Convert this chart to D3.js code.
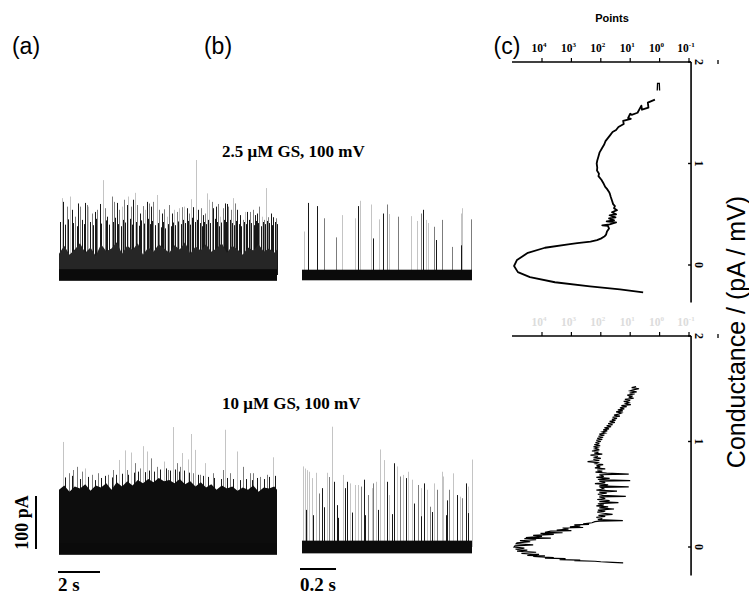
<!DOCTYPE html>
<html><head><meta charset="utf-8">
<script src="https://cdn.jsdelivr.net/npm/d3@7"></script>
<style>body{margin:0;background:#fff}svg{display:block}</style>
</head><body>
<svg id="c" width="749" height="594"></svg>
<script>
// ---------------- DATA ----------------
const panelLabels = ["(a)", "(b)", "(c)"];
const traceTitles = ["2.5 μM GS, 100 mV", "10 μM GS, 100 mV"];
const pointTicks = [4, 3, 2, 1, 0, -1];          // log10(points)
const condTicks = [0, 1, 2];                      // pA / mV
const scaleBars = { amp: 100, timeA: 2, timeB: 0.2 };
const scaleBarLabels = ["100 pA", "2 s", "0.2 s"];
const traceDuration = { a: 10.38, b: 0.944 };     // s
const baselineNoise = [11, 10, 11, 12];           // pA half width: a-top, b-top, a-bottom, b-bottom

// spikes: [time (s), amplitude (pA), dwell (ms)]
const spikesA1 = [
[0.13,145,0.6],[0.21,138,4],[0.37,129,1.5],[0.52,148,0.6],[0.60,123,4],[0.76,110,1.5],[0.92,135,4],[1.00,129,1.5],[1.24,136,4],[1.32,132,1.5],
[1.40,129,0.6],[1.56,116,1.5],[1.71,119,4],[1.83,123,1.5],[1.95,134,4],[2.08,179,0.6],[2.19,126,1.5],[2.30,110,4],[2.51,148,1.5],[2.62,138,1.5],
[2.75,136,4],[2.87,123,1.5],[2.98,129,0.6],[3.10,142,1.5],[3.22,132,4],[3.30,148,0.6],[3.43,129,1.5],[3.54,142,4],[3.63,155,0.6],[3.73,132,1.5],
[3.86,116,4],[3.98,130,1.5],[4.10,123,0.6],[4.17,138,4],[4.27,135,1.5],[4.37,129,4],[4.49,138,1.5],[4.65,151,0.6],[4.78,123,1.5],[4.89,116,4],
[5.00,124,1.5],[5.13,110,0.6],[5.25,132,1.5],[5.37,116,4],[5.48,123,0.6],[5.60,119,1.5],[5.73,126,0.6],[5.84,128,1.5],[5.97,129,0.6],[6.08,126,4],
[6.19,116,1.5],[6.30,143,0.6],[6.40,128,4],[6.52,217,0.6],[6.63,123,4],[6.75,126,1.5],[6.84,113,4],[6.95,116,1.5],[7.06,154,0.6],[7.14,142,0.6],
[7.27,138,1.5],[7.35,126,4],[7.48,129,4],[7.57,134,1.5],[7.67,110,0.6],[7.79,126,1.5],[7.90,135,4],[7.98,134,4],[8.06,129,1.5],[8.17,123,1.5],
[8.30,145,0.6],[8.40,135,1.5],[8.49,123,4],[8.62,113,4],[8.75,104,1.5],[8.86,119,0.6],[8.97,119,4],[9.10,119,1.5],[9.22,123,1.5],[9.33,113,4],
[9.44,116,4],[9.54,129,1.5],[9.65,110,0.6],[9.76,104,1.5],[9.86,164,0.6],[9.97,109,1.5],[10.08,116,4],[10.21,109,4],[10.33,107,1.5],
[0.05,100,4],[0.30,95,4],[0.45,105,4],[0.68,98,4],[0.85,92,4],[1.10,104,4],[1.18,96,4],[1.48,100,4],[1.64,94,4],[1.77,106,4],
[2.02,97,4],[2.25,103,4],[2.40,95,4],[2.57,100,4],[2.69,108,4],[2.82,96,4],[2.93,92,4],[3.05,104,4],[3.16,99,4],[3.36,106,4],
[3.48,95,4],[3.68,100,4],[3.80,93,4],[3.92,103,4],[4.04,97,4],[4.22,106,4],[4.32,96,4],[4.43,102,4],[4.55,94,4],[4.71,98,4],
[4.84,90,4],[4.95,100,4],[5.07,88,4],[5.19,96,4],[5.31,92,4],[5.43,99,4],[5.54,94,4],[5.66,101,4],[5.79,96,4],[5.90,104,4],
[6.02,98,4],[6.13,102,4],[6.25,95,4],[6.35,108,4],[6.46,100,4],[6.58,104,4],[6.70,98,4],[6.80,92,4],[6.90,100,4],[7.01,96,4],
[7.10,104,4],[7.21,98,4],[7.31,94,4],[7.42,106,4],[7.53,100,4],[7.62,92,4],[7.73,99,4],[7.85,104,4],[7.94,100,4],[8.02,96,4],
[8.12,104,4],[8.23,98,4],[8.35,94,4],[8.45,102,4],[8.56,96,4],[8.68,92,4],[8.80,100,4],[8.91,96,4],[9.04,104,4],[9.16,98,4],
[9.27,94,4],[9.38,102,4],[9.49,98,4],[9.60,92,4],[9.71,100,4],[9.81,96,4],[9.92,102,4],[10.02,98,4],[10.14,94,4],[10.27,100,4],[10.36,96,4]
];
const spikesB1 = [
[0.011,82,0.6],[0.035,136,4],[0.085,130,4],[0.081,85,4],[0.122,107,1.5],[0.189,71,1.5],[0.220,113,0.6],[0.294,107,0.6],[0.309,130,4],[0.322,140,0.6],
[0.383,133,0.6],[0.393,69,4],[0.430,105,0.6],[0.452,116,4],[0.470,133,1.5],[0.485,115,0.6],[0.535,110,1.5],[0.604,111,0.6],[0.641,102,0.6],[0.659,116,1.5],
[0.674,123,4],[0.689,104,0.6],[0.700,98,0.6],[0.735,91,1.5],[0.743,66,4],[0.776,104,1.5],[0.831,53,1.5],[0.881,116,0.6],[0.887,126,0.6],[0.884,56,4],[0.939,105,1.5]
];
const spikesA2 = [
[0.17,202,0.6],[0.49,143,1.5],[0.87,155,1.5],[1.24,152,0.6],[1.87,143,1.5],[2.35,140,1.5],[2.84,168,0.6],[3.14,186,0.6],[3.43,182,0.6],[3.62,162,1.5],
[4.02,194,0.6],[4.17,184,0.6],[4.37,171,1.5],[5.00,165,0.6],[5.41,230,0.6],[5.60,162,1.5],[5.86,181,0.6],[6.13,169,0.6],[6.29,217,0.6],[6.49,187,0.6],
[6.71,140,1.5],[6.95,162,0.6],[7.83,149,1.5],[7.89,225,0.6],[8.46,184,0.6],[8.75,155,1.5],[9.25,143,1.5],[10.17,173,0.6],
[0.68,149,1.5],[1.08,146,1.5],[1.56,140,1.5],[2.59,149,1.5],[3.22,149,1.5],[3.86,152,1.5],[4.65,155,1.5],[5.21,149,1.5],[5.76,155,1.5],[6.40,143,1.5],
[7.35,143,1.5],[8.14,143,1.5],[9.10,143,1.5],[9.57,136,1.5],[9.89,140,1.5],
[0.30,135,4],[0.62,138,4],[1.00,132,4],[1.40,136,4],[1.70,130,4],[2.00,134,4],[2.20,138,4],[2.50,135,4],[2.70,140,4],[3.00,142,4],
[3.30,140,4],[3.55,144,4],[3.75,146,4],[4.10,145,4],[4.30,148,4],[4.50,146,4],[4.80,150,4],[5.10,152,4],[5.30,148,4],[5.50,150,4],
[5.70,146,4],[5.95,148,4],[6.20,144,4],[6.60,140,4],[6.85,138,4],[7.10,136,4],[7.40,134,4],[7.70,132,4],[8.00,134,4],[8.30,132,4],
[8.60,130,4],[8.90,132,4],[9.20,130,4],[9.45,134,4],[9.75,132,4],[10.00,136,4],[10.30,138,4]
];
const spikesB2 = [
[0.004,152,0.6],[0.017,148,0.6],[0.030,145,0.6],[0.041,142,0.6],[0.054,130,0.6],[0.078,140,0.6],[0.096,101,1.5],[0.109,111,4],[0.137,140,0.6],[0.152,132,1.5],
[0.165,227,0.6],[0.178,123,4],[0.193,79,4],[0.226,136,0.6],[0.239,111,4],[0.252,123,4],[0.267,120,0.6],[0.294,117,0.6],[0.313,117,0.6],[0.328,114,1.5],
[0.344,127,4],[0.369,98,1.5],[0.387,111,0.6],[0.396,120,1.5],[0.411,123,0.6],[0.433,184,0.6],[0.457,164,0.6],[0.470,123,4],[0.485,98,0.6],[0.513,158,4],
[0.526,152,0.6],[0.544,133,1.5],[0.563,136,0.6],[0.578,130,4],[0.591,142,0.6],[0.609,127,0.6],[0.622,82,4],[0.643,117,1.5],[0.659,111,0.6],[0.678,120,4],
[0.693,108,0.6],[0.711,76,1.5],[0.733,120,0.6],[0.748,108,1.5],[0.776,142,0.6],[0.785,133,0.6],[0.804,88,4],[0.819,108,1.5],[0.841,139,0.6],[0.859,98,4],
[0.878,95,0.6],[0.887,92,1.5],[0.911,120,4],[0.924,114,0.6],[0.943,165,0.6],
[0.020,70,4],[0.060,60,4],[0.120,75,4],[0.200,55,4],[0.280,65,4],[0.350,60,4],[0.420,70,4],[0.500,62,4],[0.580,72,4],[0.660,58,4],[0.720,66,4],[0.800,60,4],[0.860,72,4],[0.920,64,4]
];
// dense bursting envelope (pA), sampled every 0.25 s
const envTimeA = [0,0.25,0.5,0.75,1,1.25,1.5,1.75,2,2.25,2.5,2.75,3,3.25,3.5,3.75,4,4.25,4.5,4.75,5,5.25,5.5,5.75,6,6.25,6.5,6.75,7,7.25,7.5,7.75,8,8.25,8.5,8.75,9,9.25,9.5,9.75,10,10.25,10.38];
const envA1 = [40,55,38,48,60,42,52,36,58,45,50,62,40,55,47,60,38,52,44,58,50,42,56,48,62,40,54,46,58,44,50,60,42,55,48,38,52,46,58,44,50,42,48];
const envA2 = [112,120,108,118,114,122,110,120,116,124,112,126,118,128,120,130,124,132,126,134,128,130,124,132,122,128,118,126,116,122,112,120,114,118,110,116,112,120,108,116,114,118,112];

// histograms: [conductance (pA/mV), log10(points)]
const histTop = [
[1.63,0.16],[1.60,0.40],[1.55,0.38],[1.53,0.60],[1.57,0.62],[1.50,0.75],[1.48,0.95],[1.49,1.00],[1.45,1.07],[1.44,0.98],
[1.42,1.24],[1.39,1.22],[1.36,1.40],[1.33,1.48],[1.31,1.60],[1.28,1.68],[1.25,1.76],[1.22,1.84],[1.19,1.88],[1.15,1.96],
[1.11,2.04],[1.07,2.08],[1.03,2.12],[1.00,2.14],[0.96,2.12],[0.93,2.13],[0.90,2.06],[0.875,2.08],[0.84,1.98],[0.80,1.90],
[0.77,1.85],[0.75,1.79],[0.72,1.72],[0.70,1.69],[0.67,1.66],[0.635,1.62],[0.60,1.58],[0.58,1.52],[0.56,1.55],[0.54,1.45],
[0.52,1.62],[0.50,1.48],[0.49,1.70],[0.47,1.50],[0.46,1.72],[0.44,1.55],[0.43,1.80],[0.42,1.48],[0.40,1.70],[0.39,1.95],
[0.385,1.76],[0.36,1.72],[0.33,1.79],[0.30,1.82],[0.28,1.88],[0.26,2.0],[0.245,2.13],[0.23,2.35],[0.215,2.8],[0.205,3.05],
[0.17,3.90],[0.12,4.48],[0.05,4.85],[-0.01,4.95],[-0.07,4.82],[-0.12,4.41],[-0.17,3.56],[-0.21,2.37],[-0.24,1.35],[-0.27,0.56]
];
const histTopCap = [[1.72,0.08],[1.79,0.07],[1.79,0.01],[1.72,0.0]];
const histBottom = [
[1.52,0.80],[1.51,0.95],[1.50,0.70],[1.49,0.90],[1.48,1.00],[1.47,0.78],[1.46,1.02],[1.45,0.85],[1.44,1.10],[1.43,0.92],
[1.42,1.05],[1.41,0.88],[1.40,1.18],[1.39,1.00],[1.38,1.22],[1.37,1.05],[1.36,1.15],[1.35,0.98],[1.34,1.30],[1.33,1.12],
[1.32,1.35],[1.31,1.20],[1.30,1.42],[1.29,1.25],[1.28,1.48],[1.27,1.30],[1.26,1.40],[1.25,1.55],[1.24,1.35],[1.23,1.60],
[1.22,1.45],[1.21,1.62],[1.20,1.50],[1.19,1.70],[1.18,1.52],[1.17,1.75],[1.16,1.60],[1.15,1.80],[1.14,1.65],[1.13,1.88],
[1.12,1.72],[1.11,1.92],[1.10,1.78],[1.09,1.95],[1.08,1.85],[1.07,2.05],[1.06,1.88],[1.05,2.08],[1.04,1.92],[1.03,2.12],
[1.02,1.95],[1.01,2.15],[1.00,2.00],[0.99,2.18],[0.98,2.05],[0.97,2.22],[0.96,2.02],[0.95,2.25],[0.94,2.10],[0.93,2.20],
[0.92,2.05],[0.91,2.30],[0.90,2.08],[0.89,2.22],[0.88,1.95],[0.87,2.35],[0.86,2.10],[0.85,2.20],[0.84,2.00],[0.83,2.25],
[0.82,2.05],[0.81,2.45],[0.80,2.10],[0.79,2.18],[0.78,1.92],[0.77,2.15],[0.76,2.02],[0.75,2.20],[0.74,1.85],[0.73,2.12],
[0.72,1.95],[0.71,2.18],[0.70,1.80],[0.69,1.05],[0.685,2.05],[0.67,1.90],[0.66,2.15],[0.65,1.70],[0.64,2.10],[0.63,1.00],
[0.625,2.05],[0.61,1.85],[0.60,2.20],[0.59,1.75],[0.58,2.05],[0.57,1.05],[0.565,2.00],[0.55,1.90],[0.54,2.15],[0.53,1.45],
[0.52,2.05],[0.51,1.80],[0.50,2.10],[0.49,1.95],[0.48,1.15],[0.475,2.05],[0.46,1.85],[0.45,2.12],[0.44,1.70],[0.43,2.05],
[0.42,1.40],[0.41,2.10],[0.40,1.90],[0.39,2.15],[0.38,1.75],[0.37,2.05],[0.36,1.55],[0.35,2.10],[0.34,1.85],[0.33,2.12],
[0.32,1.90],[0.31,1.60],[0.30,2.08],[0.29,1.85],[0.28,2.15],[0.27,1.95],[0.26,2.10],[0.25,1.25],[0.245,2.05],[0.24,2.20],
[0.23,2.30],[0.22,2.6],[0.215,2.4],[0.21,2.9],[0.20,2.7],[0.19,3.05],[0.185,2.6],[0.18,3.3],[0.17,3.1],[0.16,3.5],
[0.155,3.0],[0.15,3.7],[0.14,3.9],[0.135,3.3],[0.13,4.05],[0.12,3.6],[0.11,4.3],[0.10,4.0],[0.09,4.55],[0.085,3.7],
[0.08,4.6],[0.07,4.2],[0.06,4.75],[0.05,4.4],[0.04,4.85],[0.03,4.88],[0.02,4.3],[0.01,4.92],[0.0,4.95],[-0.01,4.6],
[-0.02,4.9],[-0.03,4.5],[-0.04,4.85],[-0.05,4.2],[-0.06,4.7],[-0.07,4.1],[-0.08,4.5],[-0.085,3.9],[-0.09,4.3],[-0.10,3.6],
[-0.105,3.9],[-0.11,3.2],[-0.12,3.4],[-0.125,2.7],[-0.13,2.9],[-0.135,2.2],[-0.14,2.0],[-0.145,1.6],[-0.15,1.24]
];
const pointsExtent = [5.02, -1.07];
const condExtentTop = [-0.37, 2];
const condExtentBottom = [-0.27, 2];

// ---------------- DRAWING ----------------
const svg = d3.select("#c");
const serif = "'Liberation Serif','Times New Roman',serif";
const sans = "'Liberation Sans',Arial,sans-serif";

// panel labels
const labelX = [26, 218, 507];
svg.selectAll("text.pl").data(panelLabels).join("text")
  .attr("x", (d, i) => labelX[i]).attr("y", 54).attr("text-anchor", "middle")
  .attr("font-family", sans).attr("font-size", 23).text(d => d);

// trace scales
const xA = d3.scaleLinear().domain([0, traceDuration.a]).range([59, 277]);
const xB = d3.scaleLinear().domain([0, traceDuration.b]).range([302, 472]);
const yT = d3.scaleLinear().domain([0, 100]).range([275, 222]);
const yBA = d3.scaleLinear().domain([0, 100]).range([549, 496]);
const yBB = d3.scaleLinear().domain([0, 100]).range([547, 494]);
const dwellColor = d3.scaleLinear().domain([0.6, 1.5, 4]).range(["#c4c4c4", "#7c7c7c", "#181818"]);

function drawTrace(x, y, spikes, envT, envV, noise, tEnd, envFill) {
  const g = svg.append("g");
  const sorted = spikes.slice().sort((a, b) => a[2] - b[2]);
  g.selectAll("line").data(sorted).join("line")
    .attr("x1", d => Math.round(x(d[0])) + 0.5).attr("x2", d => Math.round(x(d[0])) + 0.5)
    .attr("y1", y(0)).attr("y2", d => y(d[1]))
    .attr("stroke", d => dwellColor(d[2])).attr("stroke-width", 1);
  if (envT) {
    g.append("path").datum(d3.zip(envT, envV))
      .attr("d", d3.area().x(d => x(d[0])).y0(y(0)).y1(d => y(d[1])))
      .attr("fill", envFill);
  }
  g.append("rect").attr("x", x(0)).attr("width", x(tEnd) - x(0))
    .attr("y", y(noise)).attr("height", y(-noise) - y(noise)).attr("fill", "#0b0b0b");
}
drawTrace(xA, yT, spikesA1, envTimeA, envA1, baselineNoise[0], traceDuration.a, "#262626");
drawTrace(xB, yT, spikesB1, null, null, baselineNoise[1], traceDuration.b);
drawTrace(xA, yBA, spikesA2, envTimeA, envA2, baselineNoise[2], traceDuration.a, "#0d0d0d");
drawTrace(xB, yBB, spikesB2, null, null, baselineNoise[3], traceDuration.b);

// titles
const titleY = [157, 409];
svg.selectAll("text.tt").data(traceTitles).join("text")
  .attr("x", 222).attr("y", (d, i) => titleY[i])
  .attr("font-family", serif).attr("font-weight", "bold").attr("font-size", 17).text(d => d);

// scale bars
svg.append("line").attr("x1", 36).attr("x2", 36).attr("y1", yBA(0)).attr("y2", yBA(scaleBars.amp))
  .attr("stroke", "#000").attr("stroke-width", 2);
svg.append("text").attr("transform", `translate(28,${(yBA(0) + yBA(scaleBars.amp)) / 2}) rotate(-90)`)
  .attr("text-anchor", "middle").attr("font-family", serif).attr("font-weight", "bold").attr("font-size", 18)
  .text(scaleBarLabels[0]);
svg.append("line").attr("x1", xA(0) - 1).attr("x2", xA(scaleBars.timeA) - 1).attr("y1", 572).attr("y2", 572)
  .attr("stroke", "#000").attr("stroke-width", 2);
svg.append("text").attr("x", xA(0) - 1).attr("y", 591).attr("font-family", serif).attr("font-weight", "bold")
  .attr("font-size", 19).text(scaleBarLabels[1]);
svg.append("line").attr("x1", xB(0) - 2).attr("x2", xB(scaleBars.timeB) - 2).attr("y1", 569).attr("y2", 569)
  .attr("stroke", "#000").attr("stroke-width", 2);
svg.append("text").attr("x", xB(0) - 2).attr("y", 591).attr("font-family", serif).attr("font-weight", "bold")
  .attr("font-size", 19).text(scaleBarLabels[2]);

// histogram panel (c)
const xC = d3.scaleLinear().domain([-1, 4]).range([689, 542]);
const yCt = d3.scaleLinear().domain([0, 2]).range([265, 62]);
const yCb = d3.scaleLinear().domain([0, 2]).range([547, 336]);

svg.append("text").attr("x", 612).attr("y", 22).attr("text-anchor", "middle")
  .attr("font-family", sans).attr("font-weight", "bold").attr("font-size", 11).text("Points");

function drawHistAxes(yC, ext, labelColor) {
  const g = svg.append("g").attr("stroke", "#000");
  const ax = xC(pointsExtent[1]);
  g.append("line").attr("x1", xC(pointsExtent[0])).attr("x2", ax).attr("y1", yC(2)).attr("y2", yC(2)).attr("stroke-width", 1.6);
  g.append("line").attr("x1", ax).attr("x2", ax).attr("y1", yC(2)).attr("y2", yC(ext[0])).attr("stroke-width", 1.6);
  g.selectAll("line.tx").data(pointTicks).join("line")
    .attr("x1", d => xC(d)).attr("x2", d => xC(d)).attr("y1", yC(2)).attr("y2", yC(2) - 4).attr("stroke-width", 1.2);
  g.selectAll("line.ty").data(condTicks).join("line")
    .attr("x1", ax).attr("x2", ax - 3).attr("y1", d => yC(d)).attr("y2", d => yC(d)).attr("stroke-width", 1.4);
  const lt = svg.append("g").attr("font-family", serif).attr("font-weight", "bold").attr("fill", labelColor);
  pointTicks.forEach(v => {
    const t = lt.append("text").attr("x", xC(v) - 3).attr("y", yC(2) - 10).attr("text-anchor", "middle").attr("font-size", 11.5);
    t.append("tspan").text("10");
    t.append("tspan").attr("dy", -5).attr("font-size", 7).text(v);
  });
  svg.append("g").selectAll("text").data(condTicks).join("text")
    .attr("transform", d => `translate(${ax + 4},${yC(d)}) rotate(90)`)
    .attr("text-anchor", "middle").attr("font-family", serif).attr("font-weight", "bold").attr("font-size", 12)
    .text(d => d);
  svg.append("line").attr("x1", 718).attr("x2", 718).attr("y1", yC(2) - 2).attr("y2", yC(2) + 2)
    .attr("stroke", "#222").attr("stroke-width", 1.5);
}
drawHistAxes(yCt, condExtentTop, "#000");
drawHistAxes(yCb, condExtentBottom, "#dcdcdc");

const lineT = d3.line().x(d => xC(d[1])).y(d => yCt(d[0]));
const lineB = d3.line().x(d => xC(d[1])).y(d => yCb(d[0]));
svg.append("path").attr("d", lineT(histTop)).attr("fill", "none").attr("stroke", "#000").attr("stroke-width", 1.8).attr("stroke-linejoin", "round");
svg.append("path").attr("d", lineT(histTopCap)).attr("fill", "none").attr("stroke", "#000").attr("stroke-width", 1.3);
svg.append("path").attr("d", lineB(histBottom)).attr("fill", "none").attr("stroke", "#000").attr("stroke-width", 1.2);

svg.append("text").attr("transform", "translate(745,332) rotate(-90)").attr("text-anchor", "middle")
  .attr("font-family", sans).attr("font-size", 25).text("Conductance / (pA / mV)");
</script>
</body></html>
